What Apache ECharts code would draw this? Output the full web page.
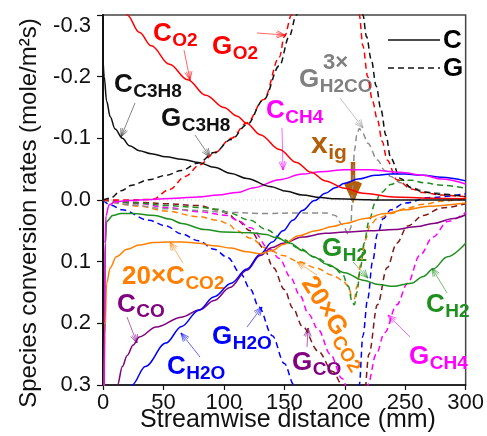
<!DOCTYPE html>
<html><head><meta charset="utf-8">
<script src="https://cdn.jsdelivr.net/npm/echarts@6/dist/echarts.min.js"></script>
<style>html,body{margin:0;padding:0;background:#fff}#c{width:487px;height:436px}</style>
</head><body><div id="c"></div>
<script>
// ---- axis settings ----
const X_MIN = 0, X_MAX = 300, X_STEP = 50;
const Y_MIN = -0.3, Y_MAX = 0.3, Y_STEP = 0.1;
const X_TITLE = 'Streamwise distance (mm)';
const Y_TITLE = 'Species conversion rates (mole/m\u00b2s)';

// ---- solid curves (C) : [distance mm, rate] ----
const C_C3H8 = [[0,-0.23],[1,-0.2],[3,-0.16],[6,-0.135],[10,-0.115],[16,-0.1],[22,-0.088],[30,-0.08],[40,-0.075],[52,-0.07],[65,-0.066],[79,-0.061],[92,-0.053],[106,-0.043],[119,-0.035],[138,-0.022],[152,-0.014],[165,-0.008],[180,-0.004],[192,-0.002],[210,-0.001],[230,0],[300,0]];
const C_O2 = [[15,-0.33],[20,-0.3],[30,-0.272],[40,-0.25],[55,-0.22],[70,-0.195],[85,-0.17],[100,-0.15],[111,-0.136],[119,-0.124],[130,-0.106],[146,-0.082],[160,-0.061],[172,-0.045],[184,-0.031],[200,-0.019],[215,-0.011],[240,-0.005],[270,-0.003],[300,-0.002]];
const C_CH4 = [[0.8,0.4],[1.2,0.2],[1.7,0.07],[2.5,0.025],[5,0.008],[10,0.003],[20,0.001],[40,-0.001],[60,-0.003],[79,-0.005],[95,-0.008],[111,-0.012],[125,-0.02],[146,-0.033],[165,-0.042],[180,-0.046],[200,-0.049],[220,-0.049],[246,-0.045],[265,-0.04],[280,-0.034],[300,-0.026]];
const C_H2O = [[20,0.34],[24,0.3],[35,0.27],[52,0.232],[65,0.205],[79,0.179],[92,0.157],[106,0.135],[119,0.112],[130,0.088],[140,0.068],[149,0.05],[157,0.033],[165,0.017],[175,0.001],[184,-0.011],[192,-0.02],[200,-0.027],[211,-0.034],[225,-0.04],[238,-0.042],[250,-0.042],[265,-0.04],[280,-0.037],[300,-0.031]];
const C_CO = [[10,0.34],[12,0.3],[16,0.27],[20,0.252],[25,0.235],[30,0.222],[44,0.206],[65,0.19],[80,0.178],[92,0.163],[105,0.142],[119,0.114],[130,0.09],[140,0.077],[149,0.07],[165,0.06],[184,0.054],[200,0.052],[220,0.05],[241,0.048],[260,0.043],[273,0.038],[290,0.03],[300,0.024]];
const C_CO2_X20 = [[0.8,0.4],[1.5,0.22],[3,0.135],[6,0.11],[11,0.092],[20,0.08],[30,0.073],[42,0.069],[54,0.068],[66,0.068],[79,0.07],[92,0.074],[106,0.078],[119,0.084],[130,0.087],[140,0.082],[149,0.072],[162,0.058],[176,0.05],[190,0.043],[200,0.038],[217,0.03],[233,0.022],[250,0.016],[270,0.01],[300,0.005]];
const C_H2 = [[0.8,0.4],[1.3,0.2],[2,0.07],[3,0.035],[8,0.025],[15,0.022],[24,0.022],[43,0.025],[55,0.031],[65,0.038],[84,0.048],[100,0.052],[122,0.053],[135,0.056],[143,0.061],[155,0.07],[165,0.082],[175,0.093],[185,0.104],[200,0.118],[215,0.13],[228,0.137],[240,0.14],[255,0.135],[265,0.124],[273,0.112],[285,0.092],[300,0.07]];

// ---- dashed curves (G) ----
const G_C3H8_A = [[0,0],[6,-0.003],[15,-0.015],[24,-0.024],[38,-0.033],[52,-0.04],[65,-0.048],[79,-0.06],[92,-0.077],[106,-0.098],[119,-0.122],[133,-0.163],[146,-0.218],[154,-0.265],[160,-0.3],[166,-0.34],[172,-0.4]];
const G_C3H8_B = [[213,-0.4],[215,-0.3],[218,-0.265],[222,-0.227],[226,-0.185],[230,-0.146],[234,-0.105],[238,-0.068],[246,-0.035],[255,-0.02],[265,-0.013],[280,-0.009],[300,-0.006]];
const G_O2_A = [[0,0],[20,0],[41,-0.001],[55,-0.017],[68,-0.038],[80,-0.057],[92,-0.076],[106,-0.1],[119,-0.125],[133,-0.163],[146,-0.232],[150,-0.265],[156,-0.3],[162,-0.34],[168,-0.4]];
const G_O2_B = [[210,-0.4],[212,-0.3],[215,-0.25],[219,-0.2],[223,-0.16],[227,-0.13],[231,-0.095],[235,-0.065],[243,-0.033],[255,-0.018],[265,-0.012],[280,-0.008],[300,-0.005]];
const G_H2CO_X3 = [[0,0],[24,0.008],[50,0.014],[79,0.017],[103,0.02],[135,0.022],[160,0.021],[175,0.021],[185,0.021],[192,0.025],[198,0.04],[203,0.055],[205,0.045],[206.5,-0.02],[208,-0.08],[210,-0.105],[212,-0.116],[215,-0.108],[219,-0.092],[227,-0.065],[233,-0.048],[238,-0.038],[246,-0.028],[255,-0.02],[270,-0.012],[300,-0.005]];
const G_H2 = [[0,0],[30,0.005],[52,0.009],[79,0.012],[95,0.015],[103,0.02],[122,0.033],[135,0.048],[149,0.064],[162,0.078],[176,0.093],[190,0.108],[198,0.12],[203,0.14],[206,0.165],[208,0.17],[210,0.15],[213,0.11],[216,0.07],[220,0.035],[225,0.005],[230,-0.012],[238,-0.025],[246,-0.032],[255,-0.032],[265,-0.028],[280,-0.024],[300,-0.019]];
const G_CO2_X20 = [[0,0],[30,0.01],[52,0.018],[79,0.027],[95,0.033],[103,0.038],[111,0.05],[122,0.062],[135,0.078],[149,0.09],[162,0.1],[176,0.11],[190,0.122],[198,0.13],[203,0.14],[206,0.158],[208,0.16],[210,0.14],[213,0.105],[217,0.065],[221,0.04],[227,0.03],[238,0.022],[250,0.014],[265,0.007],[280,0.002],[300,-0.002]];
const G_H2O_A = [[0,0],[6,0.008],[16,0.016],[38,0.033],[52,0.042],[65,0.055],[79,0.066],[92,0.08],[103,0.093],[114,0.12],[122,0.145],[129,0.174],[140,0.22],[150,0.265],[158,0.3],[165,0.34]];
const G_H2O_B = [[209,0.45],[212,0.3],[215,0.22],[219,0.16],[223,0.1],[227,0.055],[232,0.03],[238,0.016],[250,0.005],[270,-0.004],[300,-0.01]];
const G_CO_A = [[0,0],[30,0.004],[52,0.006],[79,0.009],[95,0.016],[103,0.022],[111,0.033],[122,0.05],[133,0.078],[141,0.11],[150,0.145],[157,0.175],[165,0.205],[178,0.245],[190,0.278],[198,0.3],[205,0.33],[210,0.4]];
const G_CO_B = [[212,0.45],[216,0.32],[220,0.25],[227,0.17],[235,0.11],[243,0.07],[252,0.042],[265,0.025],[280,0.013],[300,0.006]];
const G_CH4_A = [[0,0],[30,0.006],[52,0.012],[79,0.019],[103,0.025],[111,0.033],[122,0.045],[138,0.08],[146,0.095],[155,0.125],[163,0.155],[170,0.185],[178,0.21],[188,0.25],[198,0.29],[203,0.31],[208,0.4]];
const G_CH4_B = [[215,0.42],[219,0.3],[226,0.25],[233,0.215],[243,0.17],[252,0.135],[262,0.09],[273,0.06],[285,0.035],[300,0.02]];

// ---- colours ----
const RED='#ff0000', BLACK='#111111', MAG='#ff00ff', BLUE='#0000ff', PURP='#800080',
      ORG='#ff8000', GRN='#1f8f1f', GRAY='#8c8c8c', MAROON='#801818', BROWN='#b35f0a';
const FONT = "'Liberation Sans', Arial, Helvetica, sans-serif";

function ser(data, color, dashed, z) {
  return {type:'line', data, symbol:'none', showSymbol:false, smooth:0.35, smoothMonotone:'x',
    clip:true, silent:true, z: z || (dashed?3:4),
    lineStyle:{color, width:1.5, type: dashed ? [6,4] : 'solid'}, itemStyle:{color}};
}

const series = [
  Object.assign(ser([[X_MIN,0],[X_MAX,0]], '#bbbbbb', false, 1), {lineStyle:{color:'#bbbbbb', width:1, type:[1,3]}}),
  ser(G_CO_A, MAROON, true), ser(G_CO_B, MAROON, true),
  ser(G_CH4_A, MAG, true), ser(G_CH4_B, MAG, true),
  ser(G_H2O_A, BLUE, true), ser(G_H2O_B, BLUE, true),
  ser(G_CO2_X20, ORG, true), ser(G_H2, GRN, true), ser(G_H2CO_X3, GRAY, true),
  ser(G_O2_A, RED, true), ser(G_O2_B, RED, true),
  ser(G_C3H8_A, BLACK, true), ser(G_C3H8_B, BLACK, true),
  ser(C_CO, PURP, false), ser(C_H2O, BLUE, false), ser(C_CO2_X20, ORG, false),
  ser(C_H2, GRN, false), ser(C_CH4, MAG, false), ser(C_O2, RED, false), ser(C_C3H8, BLACK, false)
];

// ---- text annotations ----
const mctx = document.createElement('canvas').getContext('2d');
function tw(t, font){ mctx.font = font; return mctx.measureText(t).width; }
const MAIN = 26, SUB = 19;
function mfont(s){ return 'bold ' + s + 'px ' + FONT; }
function label(main, sub, color, x, y, opts) {
  opts = opts || {};
  const ms = opts.ms || MAIN, ss = opts.ss || SUB;
  const w = tw(main, mfont(ms));
  return [
    {type:'text', x, y, style:{text:main, font:mfont(ms), fill:color, align:'left', verticalAlign:'middle'}},
    {type:'text', x:x + w + 0.5, y:y + (opts.dy || 7), style:{text:sub, font:mfont(ss), fill:color, align:'left', verticalAlign:'middle'}}
  ];
}
function arrow(x1, y1, x2, y2, color, width, head, op) {
  width = width || 1; head = head || 9;
  const a = Math.atan2(y2 - y1, x2 - x1), s = 0.42;
  const p1 = [x2 - head*Math.cos(a - s), y2 - head*Math.sin(a - s)];
  const p2 = [x2 - head*Math.cos(a + s), y2 - head*Math.sin(a + s)];
  const p3 = [x2 - head*Math.cos(a - s/2), y2 - head*Math.sin(a - s/2)];
  const p4 = [x2 - head*Math.cos(a + s/2), y2 - head*Math.sin(a + s/2)];
  const st = {stroke:color, lineWidth:width, opacity: op==null?0.6:op, fill:null};
  return [
    {type:'line', shape:{x1, y1, x2, y2}, style:st},
    {type:'polyline', shape:{points:[p1,[x2,y2],p2]}, style:st},
    {type:'line', shape:{x1:p3[0], y1:p3[1], x2, y2}, style:st},
    {type:'line', shape:{x1:p4[0], y1:p4[1], x2, y2}, style:st}
  ];
}

let g = [];
g = g.concat(label('C','O2',RED,153,34), arrow(184,50,190,80,RED));
g = g.concat(label('G','O2',RED,212,47), arrow(257,33,285,35,RED));
g = g.concat(label('C','C3H8',BLACK,114,85), arrow(135,103,121,137,'#333'));
g = g.concat(label('G','C3H8',BLACK,161,119), arrow(195,135,210,157,'#333'));
g.push({type:'text', x:323, y:63, style:{text:'3\u00d7', font:mfont(22), fill:'#808080', align:'left', verticalAlign:'middle'}});
g = g.concat(label('G','H2CO','#808080',299,80), arrow(340,98,363,128,'#999'));
g = g.concat(label('C','CH4',MAG,266,111), arrow(282,128,283,170,MAG));
g = g.concat(label('x','ig',BROWN,311,145,{ms:30, ss:21, dy:8}));
g = g.concat(arrow(353,162,353,198,BROWN,4.5,17,1));
g = g.concat(label('G','H2',GRN,322,249), arrow(353,262,368,278,GRN));
g = g.concat(label('C','H2',GRN,426,305), arrow(447,293,432,268,GRN));
g = g.concat(label('G','CH4',MAG,409,357), arrow(410,337,388,315,MAG));
g = g.concat(label('G','CO',PURP,292,363), arrow(307,347,308,328,PURP));
g = g.concat(label('G','H2O',BLUE,212,337), arrow(247,327,262,307,BLUE));
g = g.concat(label('C','H2O',BLUE,167,367), arrow(200,357,181,333,BLUE));
g = g.concat(label('C','CO',PURP,117,305), arrow(127,317,137,343,PURP));
g = g.concat(label('20\u00d7C','CO2',ORG,122,277), arrow(183,263,170,242,ORG));
// rotated 20xG_CO2
(function(){
  const main = '20\u00d7G', w = tw(main, mfont(MAIN));
  g.push({type:'group', x:307, y:279, rotation:-58*Math.PI/180, children:[
    {type:'text', x:0, y:0, style:{text:main, font:mfont(MAIN), fill:ORG, align:'left', verticalAlign:'middle'}},
    {type:'text', x:w+0.5, y:7, style:{text:'CO2', font:mfont(SUB), fill:ORG, align:'left', verticalAlign:'middle'}}
  ]});
  g = g.concat(arrow(317,275,297,262,ORG));
})();
// legend
g.push({type:'line', shape:{x1:388,y1:40,x2:440,y2:40}, style:{stroke:BLACK, lineWidth:1.6}});
g.push({type:'line', shape:{x1:388,y1:68,x2:440,y2:68}, style:{stroke:BLACK, lineWidth:1.6, lineDash:[6,4]}});
g.push({type:'text', x:443, y:41, style:{text:'C', font:mfont(26), fill:'#000', align:'left', verticalAlign:'middle'}});
g.push({type:'text', x:443, y:69, style:{text:'G', font:mfont(26), fill:'#000', align:'left', verticalAlign:'middle'}});
// axis titles
g.push({type:'text', x:288, y:420, style:{text:X_TITLE, font:'25px '+FONT, fill:'#111', align:'center', verticalAlign:'middle'}});
g.push({type:'text', x:29, y:213, rotation:Math.PI/2, style:{text:Y_TITLE, font:'24px '+FONT, fill:'#111', align:'center', verticalAlign:'middle'}});

const chart = echarts.init(document.getElementById('c'), null, {renderer:'canvas'});
chart.setOption({
  animation:false,
  backgroundColor:'#fff',
  grid:{left:103, right:14, top:15, bottom:51, show:true, borderColor:'#444', borderWidth:1.5, backgroundColor:'transparent'},
  xAxis:{type:'value', min:X_MIN, max:X_MAX, interval:X_STEP,
    axisLine:{show:true, onZero:false, lineStyle:{color:'#111', width:1.5}},
    axisTick:{show:true, length:5, lineStyle:{color:'#111', width:1.2}},
    splitLine:{show:false},
    axisLabel:{fontSize:22, fontFamily:FONT, color:'#111', margin:7}},
  yAxis:{type:'value', min:Y_MIN, max:Y_MAX, interval:Y_STEP, inverse:true,
    axisLine:{show:true, onZero:false, lineStyle:{color:'#111', width:2}},
    axisTick:{show:true, length:6, lineStyle:{color:'#111', width:1.2}},
    splitLine:{show:false},
    axisLabel:{fontSize:22, fontFamily:FONT, color:'#111', margin:12,
      verticalAlignMinLabel:'top',
      formatter:function(v){ return (Math.abs(v)<1e-9?0:v).toFixed(1); }}},
  series,
  graphic:g
});
</script></body></html>
